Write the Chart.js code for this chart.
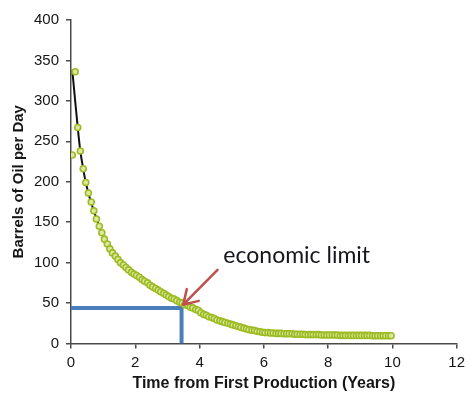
<!DOCTYPE html>
<html>
<head>
<meta charset="utf-8">
<script src="https://cdn.jsdelivr.net/npm/chart.js@4.4.0/dist/chart.umd.min.js"></script>
<style>
html, body { margin: 0; padding: 0; background: #fff; }
</style>
</head>
<body>
<canvas id="declineChart" width="470" height="396"></canvas>
<script>
// monthly production readings (years since first production)
const years = [
  0.04, 0.13, 0.21, 0.29, 0.38, 0.46, 0.54, 0.63, 0.71, 0.79, 0.88, 0.96,
  1.04, 1.13, 1.21, 1.29, 1.38, 1.46, 1.54, 1.63, 1.71, 1.79, 1.88, 1.96,
  2.04, 2.13, 2.21, 2.29, 2.38, 2.46, 2.54, 2.63, 2.71, 2.79, 2.88, 2.96,
  3.04, 3.13, 3.21, 3.29, 3.38, 3.46, 3.54, 3.63, 3.71, 3.79, 3.88, 3.96,
  4.04, 4.13, 4.21, 4.29, 4.38, 4.46, 4.54, 4.63, 4.71, 4.79, 4.88, 4.96,
  5.04, 5.13, 5.21, 5.29, 5.38, 5.46, 5.54, 5.63, 5.71, 5.79, 5.88, 5.96,
  6.04, 6.13, 6.21, 6.29, 6.38, 6.46, 6.54, 6.63, 6.71, 6.79, 6.88, 6.96,
  7.04, 7.13, 7.21, 7.29, 7.38, 7.46, 7.54, 7.63, 7.71, 7.79, 7.88, 7.96,
  8.04, 8.13, 8.21, 8.29, 8.38, 8.46, 8.54, 8.63, 8.71, 8.79, 8.88, 8.96,
  9.04, 9.13, 9.21, 9.29, 9.38, 9.46, 9.54, 9.63, 9.71, 9.79, 9.88, 9.96
];
const barrelsPerDay = [
  233, 336, 267, 238, 216, 199, 186, 175, 164, 154, 145, 137,
  129, 123, 117, 112, 108, 104, 100, 97, 94, 91, 88, 86,
  84, 82, 79, 77, 75, 72, 70, 68, 66, 64, 62, 60,
  58, 56, 55, 53, 51, 50, 48, 47, 45, 44, 42, 41,
  38, 36, 35, 33, 32, 31, 29, 28, 27, 26, 25, 24,
  23, 22, 21, 20, 19, 18, 17, 16.5, 16, 15, 14.5, 14,
  13.5, 13.5, 13, 13, 12.5, 12.5, 12.5, 12, 12, 12, 12, 11.5,
  11.5, 11.5, 11.5, 11, 11, 11, 11, 11, 11, 10.5, 10.5, 10.5,
  10.5, 10.5, 10.5, 10.5, 10, 10, 10, 10, 10, 10, 10, 10,
  10, 10, 10, 10, 9.5, 9.5, 9.5, 9.5, 9.5, 9.5, 9.5, 9.5
];

// fitted decline curve
const fitYears = [0.04, 0.13, 0.21, 0.29, 0.38, 0.46, 0.54, 0.71, 0.88, 1.04, 1.38, 1.71, 2.04, 2.54, 3.04, 3.54, 4.04, 4.54, 5.04, 5.54, 6.04, 7.04, 8.04, 9.04, 9.96];
const fitRate  = [338, 300, 267, 238, 216, 199, 186, 164, 145, 129, 108, 94, 84, 70, 58, 48, 38, 29, 23, 17, 13.5, 11.5, 10.5, 10, 9.5];

// economic limit marker
const limitYears = [0, 3.44, 3.44];
const limitRate  = [44, 44, 0];
const arrowFrom = [4.56, 91];
const arrowTo   = [3.49, 48];
const labelAt   = [4.74, 100];
const labelText = 'economic limit';

const xTicks = { min: 0, max: 12, step: 2 };
const yTicks = { min: 0, max: 400, step: 50 };

const toXY = (xs, ys) => xs.map((x, i) => ({ x: x, y: ys[i] }));

const annotate = {
  id: 'annotate',
  afterDatasetsDraw(chart) {
    const c = chart.ctx, sx = chart.scales.x, sy = chart.scales.y;
    const x1 = sx.getPixelForValue(arrowFrom[0]), y1 = sy.getPixelForValue(arrowFrom[1]);
    const x2 = sx.getPixelForValue(arrowTo[0]), y2 = sy.getPixelForValue(arrowTo[1]);
    const ang = Math.atan2(y2 - y1, x2 - x1);
    const head = 16;
    c.save();
    c.strokeStyle = '#c0504d';
    c.lineWidth = 2.5;
    c.lineCap = 'round';
    c.lineJoin = 'round';
    c.beginPath();
    c.moveTo(x1, y1);
    c.lineTo(x2, y2);
    c.moveTo(x2 - head * Math.cos(ang - 0.55), y2 - head * Math.sin(ang - 0.55));
    c.lineTo(x2, y2);
    c.lineTo(x2 - head * Math.cos(ang + 0.55), y2 - head * Math.sin(ang + 0.55));
    c.stroke();
    c.fillStyle = '#15151c';
    c.font = '23px Lato';
    c.textAlign = 'left';
    c.textBaseline = 'alphabetic';
    c.fillText(labelText, sx.getPixelForValue(labelAt[0]), sy.getPixelForValue(labelAt[1]));
    c.restore();
  }
};

const axisColor = '#4a4a4a';
const textColor = '#151515';

new Chart(document.getElementById('declineChart'), {
  type: 'scatter',
  data: {
    datasets: [
      {
        data: toXY(years, barrelsPerDay),
        pointStyle: 'circle',
        pointRadius: 3,
        borderWidth: 1.6,
        borderColor: '#9dbb23',
        backgroundColor: '#dce8a0',
        order: 1
      },
      {
        data: toXY(fitYears, fitRate),
        showLine: true,
        pointRadius: 0,
        borderColor: '#111',
        borderWidth: 2,
        cubicInterpolationMode: 'monotone',
        order: 2
      },
      {
        data: toXY(limitYears, limitRate),
        showLine: true,
        pointRadius: 0,
        borderColor: '#4a7ebb',
        borderWidth: 4,
        borderJoinStyle: 'miter',
        order: 3
      }
    ]
  },
  options: {
    responsive: false,
    animation: false,
    layout: { padding: { top: 20, right: 8, left: 0, bottom: 0 } },
    plugins: { legend: { display: false }, tooltip: { enabled: false } },
    scales: {
      x: {
        type: 'linear',
        min: xTicks.min, max: xTicks.max,
        afterFit: s => { s.height = 52.5; },
        ticks: { stepSize: xTicks.step, color: textColor, padding: 5, font: { family: 'Liberation Sans', size: 15 } },
        grid: { drawOnChartArea: false, tickLength: 5, color: axisColor, lineWidth: 1.5 },
        border: { color: axisColor, width: 1.5 },
        title: { display: true, text: 'Time from First Production (Years)', color: textColor, padding: { top: 0, bottom: 3 }, font: { family: 'Liberation Sans', size: 16, weight: 'bold' } }
      },
      y: {
        min: yTicks.min, max: yTicks.max,
        afterFit: s => { s.width = 71; },
        ticks: { stepSize: yTicks.step, color: textColor, padding: 7, font: { family: 'Liberation Sans', size: 15 } },
        grid: { drawOnChartArea: false, tickLength: 5, color: axisColor, lineWidth: 1.5 },
        border: { color: axisColor, width: 1.5 },
        title: { display: true, text: 'Barrels of Oil per Day', color: textColor, padding: { top: 10, bottom: 0 }, font: { family: 'Liberation Sans', size: 15, weight: 'bold' } }
      }
    }
  },
  plugins: [annotate]
});
</script>
</body>
</html>
